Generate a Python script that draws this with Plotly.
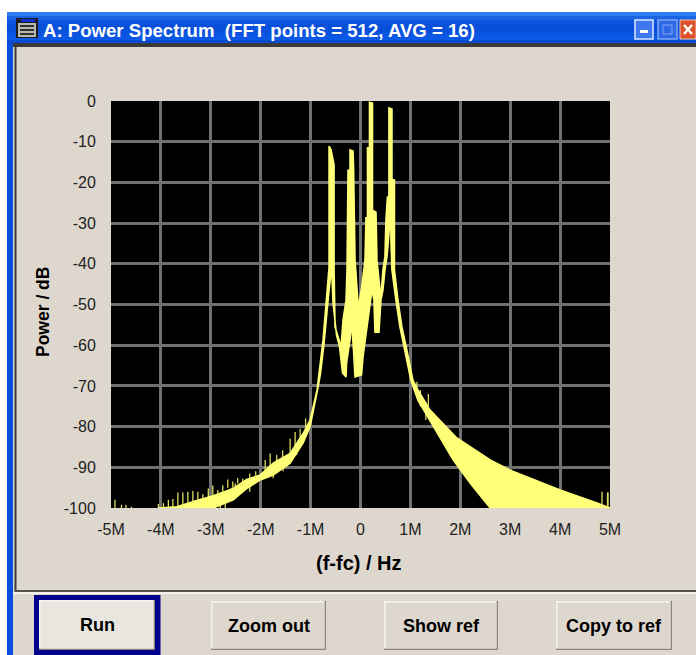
import plotly.graph_objects as go

# ---------- data ----------
outline_mhz = [-4.05,-3.68,-3.35,-2.95,-2.55,-2.28,-2.01,-1.75,-1.41,-1.15,-1.01,-0.87,-0.75,-0.71,-0.67,-0.63,-0.63,-0.59,-0.55,-0.53,-0.53,-0.51,-0.43,-0.39,-0.35,-0.31,-0.29,-0.27,-0.25,-0.21,-0.21,-0.15,-0.14,-0.11,-0.08,-0.05,-0.03,0.03,0.09,0.11,0.14,0.14,0.18,0.18,0.24,0.24,0.31,0.33,0.39,0.42,0.45,0.49,0.51,0.54,0.57,0.57,0.63,0.63,0.68,0.68,0.68,0.75,0.83,0.93,1.05,1.15,1.39,1.93,2.6,3.0,4.0,4.74,5.0,
               2.6,2.2,1.86,1.39,1.15,1.01,0.89,0.79,0.71,0.63,0.61,0.61,0.56,0.53,0.49,0.45,0.41,0.37,0.29,0.27,0.23,0.15,0.09,0.05,0.02,-0.11,-0.14,-0.18,-0.21,-0.28,-0.29,-0.36,-0.42,-0.48,-0.55,-0.58,-0.63,-0.68,-0.73,-0.8,-0.85,-1.01,-1.15,-1.41,-1.75,-2.01,-2.28,-2.55,-2.95,-4.05]
outline_db = [-100,-99.7,-98.4,-97,-95.2,-93,-91.9,-89,-86.6,-81.7,-78.4,-71,-58.7,-53.1,-45.7,-40.8,-11.1,-12,-14.5,-15.7,-40.8,-55.5,-58.7,-60.5,-53.8,-50.1,-48.9,-41.5,-17,-17,-12,-12.3,-15.7,-39,-44.7,-49.6,-49.9,-45.2,-39.1,-28.7,-28.7,-11.5,-11.5,-0.3,-0.5,-26.8,-27.3,-39.1,-46.4,-46.4,-41.5,-38.3,-29.2,-23.6,-23.6,-1.7,-2,-19.2,-19.4,-31.2,-41.5,-48.9,-55.5,-61.2,-68.6,-71,-75.9,-82.8,-88.2,-90.7,-95.6,-98.8,-100,
              -100,-93.9,-88.2,-78.4,-73.5,-68.6,-61.2,-55.5,-48.9,-41.5,-34.2,-26.3,-34.2,-38.3,-41.5,-46.4,-48.9,-56.8,-56.8,-48.9,-46.4,-53.8,-58.7,-62.9,-67.3,-67.8,-61.2,-54.3,-58.7,-64.4,-67.8,-66.8,-60.4,-57.5,-49.6,-40.8,-46.4,-53.8,-59.5,-66.8,-70.3,-80,-84,-89,-91.9,-93.1,-95.2,-98,-100,-100]

spike_mhz = [-4.92,-4.79,-4.7,-4.59,-4.05,-3.95,-3.85,-3.76,-3.66,-3.56,-3.46,-3.36,-3.26,-3.16,-3.05,-2.96,-2.91,-2.86,-2.81,-2.76,-2.71,-2.66,-2.58,-2.56,-2.51,-2.46,-2.36,-2.22,-2.1,-1.91,-1.81,-1.75,-1.68,-1.56,-1.55,-1.48,-1.41,-1.31,-1.28,-1.21,-1.1,1.13,1.2,1.31,1.36,4.84,4.95,4.96]
spike_top = [-98,-99.2,-99.2,-99.7,-99,-98.8,-98,-97.8,-96.2,-96.2,-96,-95.8,-96,-96.6,-95.2,-94.5,-97,-95.6,-97,-94.4,-96,-93,-95,-93.5,-94,-92.6,-92.8,-91.5,-91,-88.2,-86.6,-90,-87,-85.8,-88,-87,-83,-81.3,-85,-80.5,-78,-69,-71,-74,-72,-96,-96.2,-96.2]
spike_bottom = [-100,-100,-100,-100,-100,-100,-100,-100,-100,-100,-99,-99,-98,-98,-98,-98,-100,-97,-100,-96,-100,-95,-98,-95,-97.2,-94,-94,-96,-94,-92,-91,-92.7,-90,-89,-91,-90,-88,-86,-87,-84,-82,-72,-75,-78.4,-76,-100,-100,-100]

x_tick_vals = [-5,-4,-3,-2,-1,0,1,2,3,4,5]
x_tick_text = ["-5M","-4M","-3M","-2M","-1M","0","1M","2M","3M","4M","5M"]
y_tick_vals = [0,-10,-20,-30,-40,-50,-60,-70,-80,-90,-100]
y_tick_text = ["0","-10","-20","-30","-40","-50","-60","-70","-80","-90","-100"]

window_title = "A: Power Spectrum\u00a0\u00a0(FFT points = 512, AVG = 16)"
x_title = "(f-fc) / Hz"
y_title = "Power / dB"
button_labels = ["Run","Zoom out","Show ref","Copy to ref"]
button_left = [39,211,384,556]
button_right = [155,326,498,672]
button_top = [600,601,601,601]
button_bottom = [650,650,650,650]

W, H = 696, 655
BEIGE = "#ded7ce"
YELLOW = "#ffff78"
FONT = "Liberation Sans"

def px(x):
    return (x-111)/499

def py(y):
    return (508-y)/407

def rect(x0, y0, x1, y1, fill, line=None, lw=0):
    return dict(type="rect", xref="paper", yref="paper", layer="below",
                x0=px(x0), x1=px(x1), y0=py(y0), y1=py(y1),
                fillcolor=fill, line=dict(color=line or fill, width=lw))

def seg(x0, y0, x1, y1, color, lw):
    return dict(type="line", xref="paper", yref="paper", layer="below",
                x0=px(x0), x1=px(x1), y0=py(y0), y1=py(y1),
                line=dict(color=color, width=lw))

shapes = []
# white surround
shapes.append(rect(0,0,W,12,"#ffffff"))
shapes.append(rect(0,0,7,H,"#ffffff"))
# blue window border and title bar
shapes.append(rect(7,12,13,H,"#0a4fdc"))
stripes = ["#2f7cf2","#1a62e6","#0c55e0","#0850da","#0850da","#0a54e0","#0c58e6","#0a4cd0"]
for i, c in enumerate(stripes):
    shapes.append(rect(7,12+i*4,W,16+i*4,c))
# panel frame
shapes.append(rect(13,43,W,47,"#3a3a38"))
shapes.append(rect(14.5,47,16.5,591,"#3a3a38"))
shapes.append(rect(14.5,590,W,592,"#55534e"))
shapes.append(rect(13,592,W,594,"#f4f1ec"))
# title icon
shapes.append(rect(16,18,38,38,"#1c1c1c"))
shapes.append(rect(21,19,35,22,"#1030d0"))
shapes.append(rect(18,23,36,37,"#b8b8b0"))
for yy in (25,29,33):
    shapes.append(rect(20,yy,34,yy+2,"#303030"))
# window control buttons
shapes.append(rect(635,20,653,39,"#3f78ee","#dce8ff",1.5))
shapes.append(rect(640,30,648,33,"#ffffff"))
shapes.append(rect(658,20,677,39,"#2f68e4","#7fa6f2",1.5))
shapes.append(rect(663,25,672,34,"#2f68e4","#7fa6f2",1))
shapes.append(rect(680,20,696,39,"#d9502a","#f4c8b4",1))
shapes.append(seg(684,25,692,34,"#ffffff",2.5))
shapes.append(seg(692,25,684,34,"#ffffff",2.5))
# buttons
shapes.append(rect(34,595,160.5,655,"#00008a"))
for l, r, t, b, name in zip(button_left, button_right, button_top, button_bottom, button_labels):
    shapes.append(rect(l,t,r,b,"#8c8478"))
    shapes.append(rect(l,t,r-1.5,b-1.5,"#f6f4ef"))
    shapes.append(rect(l+1.5,t+1.5,r-1.5,b-1.5,"#e9e6e0" if name=="Run" else BEIGE))

spike_x, spike_y = [], []
for m, top, bot in zip(spike_mhz, spike_top, spike_bottom):
    spike_x += [m, m, None]
    spike_y += [top, bot, None]

fig = go.Figure()
fig.add_trace(go.Scatter(x=spike_x, y=spike_y, mode="lines",
                         line=dict(color="#dcdc60", width=1.3), hoverinfo="skip"))
fig.add_trace(go.Scatter(x=outline_mhz, y=outline_db, mode="lines", fill="toself",
                         fillcolor=YELLOW, line=dict(color=YELLOW, width=1.6), hoverinfo="skip"))

annotations = []
for l, r, t, b, name in zip(button_left, button_right, button_top, button_bottom, button_labels):
    annotations.append(dict(text=name, xref="paper", yref="paper",
                            x=px((l+r)/2), y=py((t+b)/2),
                            xanchor="center", yanchor="middle", showarrow=False,
                            font=dict(family=FONT, size=18, color="#000000", weight="bold")))
annotations.append(dict(text=y_title, xref="paper", yref="paper", x=px(43), y=py(312),
                        xanchor="center", yanchor="middle", textangle=-90, showarrow=False,
                        font=dict(family=FONT, size=17.5, color="#000000", weight="bold")))
annotations.append(dict(text=x_title, xref="paper", yref="paper", x=px(359), y=py(563),
                        xanchor="center", yanchor="middle", showarrow=False,
                        font=dict(family=FONT, size=20, color="#000000", weight="bold")))

fig.update_layout(
    width=W, height=H, autosize=False, showlegend=False,
    margin=dict(l=111, r=86, t=101, b=147, pad=0),
    paper_bgcolor=BEIGE, plot_bgcolor="#000000",
    shapes=shapes, annotations=annotations,
    title=dict(text=window_title, xref="container", yref="container",
               x=43/W, xanchor="left", y=1-30/H, yanchor="middle",
               font=dict(family=FONT, size=18.6, color="#ffffff", weight="bold")),
    xaxis=dict(range=[-5,5], tickmode="array", tickvals=x_tick_vals, ticktext=x_tick_text,
               showgrid=True, gridcolor="#707070", gridwidth=2.5, zeroline=False, showline=False,
               ticks="outside", ticklen=7, tickcolor="rgba(0,0,0,0)",
               tickfont=dict(family=FONT, size=16, color="#222222")),
    yaxis=dict(range=[-100,0], tickmode="array", tickvals=y_tick_vals, ticktext=y_tick_text,
               showgrid=True, gridcolor="#707070", gridwidth=2.5, zeroline=False, showline=False,
               ticks="outside", ticklen=11, tickcolor="rgba(0,0,0,0)",
               tickfont=dict(family=FONT, size=16, color="#222222")),
)

fig.write_html("out.html", config=dict(displayModeBar=False),
               post_script="document.body.style.margin='0';document.body.style.overflow='hidden';")
